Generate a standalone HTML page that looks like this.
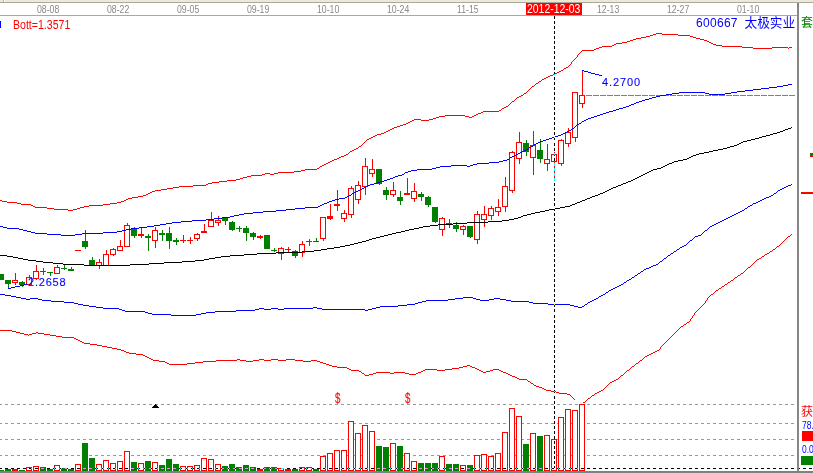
<!DOCTYPE html>
<html><head><meta charset="utf-8"><title>600667</title>
<style>
html,body{margin:0;padding:0;background:#fff;}
body{width:813px;height:473px;overflow:hidden;position:relative;font-family:"Liberation Sans","Noto Sans CJK SC",sans-serif;}
svg{position:absolute;left:0;top:0;display:block}
text{font-family:"Liberation Sans","Noto Sans CJK SC",sans-serif;}
</style></head><body>
<svg width="813" height="473" viewBox="0 0 813 473" shape-rendering="crispEdges">
<rect x="0" y="0" width="813" height="473" fill="#fff"/>
<rect x="0" y="0" width="813" height="3" fill="#ece9d8"/>
<rect x="0" y="2" width="813" height="1" fill="#aca899"/>
<rect x="4" y="0" width="1" height="2" fill="#fff"/>
<rect x="3" y="0" width="1" height="2" fill="#b8b4a0"/>
<rect x="0" y="15" width="797" height="1" fill="#a8a8a8"/>
<rect x="797" y="3" width="2" height="470" fill="#868686"/>
<rect x="0" y="471" width="813" height="2" fill="#808080"/>
<line x1="-1" y1="404.5" x2="795" y2="404.5" stroke="#999" stroke-width="1" stroke-dasharray="3 3"/>
<line x1="-1" y1="423.5" x2="795" y2="423.5" stroke="#999" stroke-width="1" stroke-dasharray="3 3"/>
<line x1="-1" y1="439.5" x2="795" y2="439.5" stroke="#999" stroke-width="1" stroke-dasharray="3 3"/>
<line x1="-1" y1="455.5" x2="795" y2="455.5" stroke="#999" stroke-width="1" stroke-dasharray="3 3"/>
<line x1="586" y1="95.5" x2="796" y2="95.5" stroke="#808080" stroke-width="1" stroke-dasharray="6 1"/>
<rect x="1" y="274" width="1" height="6" fill="#008000"/>
<rect x="-2" y="274" width="6" height="6" fill="#008000"/>
<rect x="8" y="280" width="1" height="8" fill="#008000"/>
<rect x="5" y="280" width="6" height="4" fill="#008000"/>
<rect x="15" y="273" width="1" height="12" fill="#ff0000"/>
<rect x="12" y="280" width="6" height="3" fill="#ff0000"/>
<rect x="13" y="281" width="4" height="1" fill="#fff"/>
<rect x="22" y="281" width="1" height="6" fill="#008000"/>
<rect x="19" y="282" width="6" height="3" fill="#008000"/>
<rect x="29" y="275" width="1" height="10" fill="#ff0000"/>
<rect x="26" y="277" width="6" height="8" fill="#ff0000"/>
<rect x="27" y="278" width="4" height="6" fill="#fff"/>
<rect x="36" y="265" width="1" height="15" fill="#ff0000"/>
<rect x="33" y="271" width="6" height="8" fill="#ff0000"/>
<rect x="34" y="272" width="4" height="6" fill="#fff"/>
<rect x="43" y="268" width="1" height="7" fill="#008000"/>
<rect x="40" y="271" width="6" height="1" fill="#008000"/>
<rect x="50" y="272" width="1" height="4" fill="#008000"/>
<rect x="47" y="272" width="6" height="1" fill="#008000"/>
<rect x="57" y="265" width="1" height="9" fill="#ff0000"/>
<rect x="54" y="267" width="6" height="7" fill="#ff0000"/>
<rect x="55" y="268" width="4" height="5" fill="#fff"/>
<rect x="64" y="265" width="1" height="5" fill="#008000"/>
<rect x="61" y="268" width="6" height="1" fill="#008000"/>
<rect x="71" y="267" width="1" height="4" fill="#008000"/>
<rect x="68" y="269" width="6" height="2" fill="#008000"/>
<rect x="78" y="250" width="1" height="1" fill="#ff0000"/>
<rect x="75" y="250" width="6" height="1" fill="#ff0000"/>
<rect x="85" y="230" width="1" height="19" fill="#008000"/>
<rect x="82" y="241" width="6" height="6" fill="#008000"/>
<rect x="92" y="257" width="1" height="9" fill="#008000"/>
<rect x="89" y="260" width="6" height="6" fill="#008000"/>
<rect x="99" y="259" width="1" height="10" fill="#ff0000"/>
<rect x="96" y="262" width="6" height="4" fill="#ff0000"/>
<rect x="97" y="263" width="4" height="2" fill="#fff"/>
<rect x="106" y="250" width="1" height="16" fill="#ff0000"/>
<rect x="103" y="254" width="6" height="12" fill="#ff0000"/>
<rect x="104" y="255" width="4" height="10" fill="#fff"/>
<rect x="113" y="248" width="1" height="8" fill="#ff0000"/>
<rect x="110" y="249" width="6" height="6" fill="#ff0000"/>
<rect x="111" y="250" width="4" height="4" fill="#fff"/>
<rect x="120" y="240" width="1" height="11" fill="#ff0000"/>
<rect x="117" y="246" width="6" height="5" fill="#ff0000"/>
<rect x="118" y="247" width="4" height="3" fill="#fff"/>
<rect x="127" y="223" width="1" height="24" fill="#ff0000"/>
<rect x="124" y="225" width="6" height="22" fill="#ff0000"/>
<rect x="125" y="226" width="4" height="20" fill="#fff"/>
<rect x="134" y="227" width="1" height="11" fill="#008000"/>
<rect x="131" y="229" width="6" height="7" fill="#008000"/>
<rect x="141" y="228" width="1" height="10" fill="#ff0000"/>
<rect x="138" y="234" width="6" height="2" fill="#ff0000"/>
<rect x="148" y="234" width="1" height="17" fill="#008000"/>
<rect x="145" y="236" width="6" height="2" fill="#008000"/>
<rect x="155" y="227" width="1" height="21" fill="#ff0000"/>
<rect x="152" y="230" width="6" height="11" fill="#ff0000"/>
<rect x="153" y="231" width="4" height="9" fill="#fff"/>
<rect x="162" y="230" width="1" height="11" fill="#008000"/>
<rect x="159" y="233" width="6" height="2" fill="#008000"/>
<rect x="169" y="227" width="1" height="22" fill="#008000"/>
<rect x="166" y="233" width="6" height="8" fill="#008000"/>
<rect x="176" y="238" width="1" height="7" fill="#008000"/>
<rect x="173" y="240" width="6" height="2" fill="#008000"/>
<rect x="183" y="235" width="1" height="8" fill="#ff0000"/>
<rect x="180" y="240" width="6" height="1" fill="#ff0000"/>
<rect x="190" y="237" width="1" height="7" fill="#ff0000"/>
<rect x="187" y="240" width="6" height="1" fill="#ff0000"/>
<rect x="197" y="233" width="1" height="8" fill="#ff0000"/>
<rect x="194" y="234" width="6" height="5" fill="#ff0000"/>
<rect x="195" y="235" width="4" height="3" fill="#fff"/>
<rect x="204" y="224" width="1" height="9" fill="#ff0000"/>
<rect x="201" y="231" width="6" height="2" fill="#ff0000"/>
<rect x="211" y="212" width="1" height="15" fill="#ff0000"/>
<rect x="208" y="220" width="6" height="7" fill="#ff0000"/>
<rect x="209" y="221" width="4" height="5" fill="#fff"/>
<rect x="218" y="216" width="1" height="10" fill="#ff0000"/>
<rect x="215" y="220" width="6" height="3" fill="#ff0000"/>
<rect x="216" y="221" width="4" height="1" fill="#fff"/>
<rect x="225" y="218" width="1" height="7" fill="#008000"/>
<rect x="222" y="218" width="6" height="3" fill="#008000"/>
<rect x="232" y="221" width="1" height="10" fill="#008000"/>
<rect x="229" y="222" width="6" height="8" fill="#008000"/>
<rect x="239" y="226" width="1" height="6" fill="#008000"/>
<rect x="236" y="228" width="6" height="1" fill="#008000"/>
<rect x="246" y="226" width="1" height="15" fill="#008000"/>
<rect x="243" y="228" width="6" height="5" fill="#008000"/>
<rect x="253" y="232" width="1" height="8" fill="#008000"/>
<rect x="250" y="233" width="6" height="4" fill="#008000"/>
<rect x="260" y="235" width="1" height="4" fill="#ff0000"/>
<rect x="257" y="236" width="6" height="2" fill="#ff0000"/>
<rect x="267" y="235" width="1" height="14" fill="#008000"/>
<rect x="264" y="235" width="6" height="14" fill="#008000"/>
<rect x="274" y="248" width="1" height="4" fill="#008000"/>
<rect x="271" y="250" width="6" height="1" fill="#008000"/>
<rect x="281" y="247" width="1" height="13" fill="#ff0000"/>
<rect x="278" y="248" width="6" height="6" fill="#ff0000"/>
<rect x="279" y="249" width="4" height="4" fill="#fff"/>
<rect x="288" y="247" width="1" height="6" fill="#ff0000"/>
<rect x="285" y="249" width="6" height="1" fill="#ff0000"/>
<rect x="295" y="250" width="1" height="8" fill="#008000"/>
<rect x="292" y="251" width="6" height="5" fill="#008000"/>
<rect x="302" y="241" width="1" height="16" fill="#ff0000"/>
<rect x="299" y="244" width="6" height="9" fill="#ff0000"/>
<rect x="300" y="245" width="4" height="7" fill="#fff"/>
<rect x="309" y="239" width="1" height="7" fill="#ff0000"/>
<rect x="306" y="241" width="6" height="1" fill="#ff0000"/>
<rect x="316" y="238" width="1" height="4" fill="#008000"/>
<rect x="313" y="241" width="6" height="1" fill="#008000"/>
<rect x="323" y="217" width="1" height="24" fill="#ff0000"/>
<rect x="320" y="217" width="6" height="22" fill="#ff0000"/>
<rect x="321" y="218" width="4" height="20" fill="#fff"/>
<rect x="330" y="204" width="1" height="16" fill="#ff0000"/>
<rect x="327" y="216" width="6" height="3" fill="#ff0000"/>
<rect x="337" y="190" width="1" height="21" fill="#ff0000"/>
<rect x="334" y="204" width="6" height="2" fill="#ff0000"/>
<rect x="344" y="210" width="1" height="12" fill="#ff0000"/>
<rect x="341" y="213" width="6" height="6" fill="#ff0000"/>
<rect x="342" y="214" width="4" height="4" fill="#fff"/>
<rect x="351" y="186" width="1" height="32" fill="#ff0000"/>
<rect x="348" y="188" width="6" height="27" fill="#ff0000"/>
<rect x="349" y="189" width="4" height="25" fill="#fff"/>
<rect x="358" y="181" width="1" height="23" fill="#ff0000"/>
<rect x="355" y="185" width="6" height="15" fill="#ff0000"/>
<rect x="356" y="186" width="4" height="13" fill="#fff"/>
<rect x="365" y="158" width="1" height="37" fill="#ff0000"/>
<rect x="362" y="166" width="6" height="21" fill="#ff0000"/>
<rect x="363" y="167" width="4" height="19" fill="#fff"/>
<rect x="372" y="159" width="1" height="18" fill="#ff0000"/>
<rect x="369" y="169" width="6" height="5" fill="#ff0000"/>
<rect x="370" y="170" width="4" height="3" fill="#fff"/>
<rect x="379" y="169" width="1" height="16" fill="#008000"/>
<rect x="376" y="169" width="6" height="15" fill="#008000"/>
<rect x="386" y="187" width="1" height="13" fill="#008000"/>
<rect x="383" y="190" width="6" height="5" fill="#008000"/>
<rect x="393" y="182" width="1" height="15" fill="#ff0000"/>
<rect x="390" y="190" width="6" height="5" fill="#ff0000"/>
<rect x="391" y="191" width="4" height="3" fill="#fff"/>
<rect x="400" y="191" width="1" height="14" fill="#008000"/>
<rect x="397" y="197" width="6" height="4" fill="#008000"/>
<rect x="407" y="178" width="1" height="17" fill="#ff0000"/>
<rect x="404" y="193" width="6" height="2" fill="#ff0000"/>
<rect x="414" y="183" width="1" height="19" fill="#ff0000"/>
<rect x="411" y="191" width="6" height="8" fill="#ff0000"/>
<rect x="412" y="192" width="4" height="6" fill="#fff"/>
<rect x="421" y="192" width="1" height="9" fill="#008000"/>
<rect x="418" y="194" width="6" height="3" fill="#008000"/>
<rect x="428" y="196" width="1" height="11" fill="#008000"/>
<rect x="425" y="197" width="6" height="8" fill="#008000"/>
<rect x="435" y="207" width="1" height="16" fill="#008000"/>
<rect x="432" y="207" width="6" height="15" fill="#008000"/>
<rect x="442" y="217" width="1" height="19" fill="#ff0000"/>
<rect x="439" y="218" width="6" height="12" fill="#ff0000"/>
<rect x="440" y="219" width="4" height="10" fill="#fff"/>
<rect x="449" y="219" width="1" height="9" fill="#008000"/>
<rect x="446" y="223" width="6" height="1" fill="#008000"/>
<rect x="456" y="222" width="1" height="10" fill="#008000"/>
<rect x="453" y="225" width="6" height="4" fill="#008000"/>
<rect x="463" y="225" width="1" height="10" fill="#ff0000"/>
<rect x="460" y="226" width="6" height="4" fill="#ff0000"/>
<rect x="461" y="227" width="4" height="2" fill="#fff"/>
<rect x="470" y="226" width="1" height="12" fill="#008000"/>
<rect x="467" y="226" width="6" height="11" fill="#008000"/>
<rect x="477" y="211" width="1" height="33" fill="#ff0000"/>
<rect x="474" y="214" width="6" height="26" fill="#ff0000"/>
<rect x="475" y="215" width="4" height="24" fill="#fff"/>
<rect x="484" y="206" width="1" height="21" fill="#ff0000"/>
<rect x="481" y="214" width="6" height="6" fill="#ff0000"/>
<rect x="482" y="215" width="4" height="4" fill="#fff"/>
<rect x="491" y="206" width="1" height="14" fill="#ff0000"/>
<rect x="488" y="208" width="6" height="8" fill="#ff0000"/>
<rect x="489" y="209" width="4" height="6" fill="#fff"/>
<rect x="498" y="199" width="1" height="17" fill="#ff0000"/>
<rect x="495" y="207" width="6" height="5" fill="#ff0000"/>
<rect x="496" y="208" width="4" height="3" fill="#fff"/>
<rect x="505" y="177" width="1" height="35" fill="#ff0000"/>
<rect x="502" y="186" width="6" height="21" fill="#ff0000"/>
<rect x="503" y="187" width="4" height="19" fill="#fff"/>
<rect x="512" y="151" width="1" height="42" fill="#ff0000"/>
<rect x="509" y="152" width="6" height="39" fill="#ff0000"/>
<rect x="510" y="153" width="4" height="37" fill="#fff"/>
<rect x="519" y="132" width="1" height="32" fill="#ff0000"/>
<rect x="516" y="142" width="6" height="17" fill="#ff0000"/>
<rect x="517" y="143" width="4" height="15" fill="#fff"/>
<rect x="526" y="140" width="1" height="16" fill="#008000"/>
<rect x="523" y="143" width="6" height="9" fill="#008000"/>
<rect x="533" y="131" width="1" height="44" fill="#ff0000"/>
<rect x="530" y="145" width="6" height="13" fill="#ff0000"/>
<rect x="531" y="146" width="4" height="11" fill="#fff"/>
<rect x="540" y="139" width="1" height="24" fill="#008000"/>
<rect x="537" y="150" width="6" height="9" fill="#008000"/>
<rect x="547" y="144" width="1" height="27" fill="#ff0000"/>
<rect x="544" y="159" width="6" height="5" fill="#ff0000"/>
<rect x="545" y="160" width="4" height="3" fill="#fff"/>
<rect x="554" y="152" width="1" height="29" fill="#ff0000"/>
<rect x="551" y="154" width="6" height="8" fill="#ff0000"/>
<rect x="552" y="155" width="4" height="6" fill="#fff"/>
<rect x="561" y="139" width="1" height="27" fill="#ff0000"/>
<rect x="558" y="140" width="6" height="24" fill="#ff0000"/>
<rect x="559" y="141" width="4" height="22" fill="#fff"/>
<rect x="568" y="128" width="1" height="19" fill="#ff0000"/>
<rect x="565" y="132" width="6" height="12" fill="#ff0000"/>
<rect x="566" y="133" width="4" height="10" fill="#fff"/>
<rect x="575" y="92" width="1" height="50" fill="#ff0000"/>
<rect x="572" y="92" width="6" height="46" fill="#ff0000"/>
<rect x="573" y="93" width="4" height="44" fill="#fff"/>
<rect x="582" y="70" width="1" height="38" fill="#ff0000"/>
<rect x="579" y="95" width="6" height="9" fill="#ff0000"/>
<rect x="580" y="96" width="4" height="7" fill="#fff"/>
<path fill="none" stroke="#ff0000" stroke-width="1" d="M656 33.5h6M653 34.5h3M662 34.5h16M650 35.5h3M678 35.5h12M646 36.5h4M690 36.5h3M641 37.5h5M693 37.5h3M636 38.5h5M696 38.5h4M633 39.5h3M700 39.5h4M630 40.5h3M704 40.5h3M627 41.5h3M707 41.5h2M622 42.5h5M709 42.5h2M616 43.5h6M711 43.5h2M614 44.5h2M713 44.5h3M612 45.5h2M716 45.5h6M602 46.5h10M722 46.5h20M599 47.5h3M742 47.5h11M772 47.5h16M789 47.5h3M596 48.5h3M753 48.5h19M788 48.5h1M594 49.5h2M582 50.5h12M581 51.5h1M580 52.5h1M579 53.5h1M578 54.5h1M577 55.5h1M577 56.5h1M576 57.5h1M575 58.5h1M574 59.5h1M573 60.5h1M572 61.5h1M571 62.5h1M571 63.5h1M570 64.5h1M569 65.5h1M568 66.5h1M566 67.5h2M564 68.5h2M563 69.5h1M561 70.5h2M559 71.5h2M557 72.5h2M555 73.5h2M553 74.5h2M550 75.5h3M548 76.5h2M546 77.5h2M544 78.5h2M542 79.5h2M541 80.5h1M539 81.5h2M538 82.5h1M536 83.5h2M535 84.5h1M534 85.5h1M532 86.5h2M531 87.5h1M530 88.5h1M529 89.5h1M528 90.5h1M527 91.5h1M526 92.5h1M524 93.5h2M523 94.5h1M521 95.5h2M519 96.5h2M517 97.5h2M516 98.5h1M515 99.5h1M514 100.5h1M512 101.5h2M511 102.5h1M510 103.5h1M509 104.5h1M508 105.5h1M506 106.5h2M504 107.5h2M502 108.5h2M501 109.5h1M499 110.5h2M483 111.5h16M481 112.5h2M478 113.5h3M476 114.5h2M445 115.5h20M474 115.5h2M439 116.5h6M465 116.5h4M472 116.5h2M436 117.5h3M469 117.5h3M433 118.5h3M414 119.5h7M429 119.5h4M412 120.5h2M421 120.5h8M410 121.5h2M408 122.5h2M406 123.5h2M403 124.5h3M400 125.5h3M397 126.5h3M394 127.5h3M392 128.5h2M390 129.5h2M388 130.5h2M386 131.5h2M384 132.5h2M381 133.5h3M377 134.5h4M375 135.5h2M373 136.5h2M371 137.5h2M369 138.5h2M367 139.5h2M366 140.5h1M365 141.5h1M364 142.5h1M363 143.5h1M362 144.5h1M361 145.5h1M359 146.5h2M358 147.5h1M356 148.5h2M354 149.5h2M352 150.5h2M350 151.5h2M349 152.5h1M348 153.5h1M346 154.5h2M344 155.5h2M341 156.5h3M339 157.5h2M337 158.5h2M334 159.5h3M332 160.5h2M330 161.5h2M328 162.5h2M326 163.5h2M324 164.5h2M322 165.5h2M320 166.5h2M319 167.5h1M317 168.5h2M305 169.5h12M301 170.5h4M294 171.5h7M278 172.5h16M265 173.5h5M274 173.5h4M262 174.5h3M270 174.5h4M251 175.5h11M247 176.5h4M243 177.5h4M240 178.5h3M236 179.5h4M227 180.5h9M219 181.5h8M212 182.5h7M208 183.5h4M206 184.5h2M193 185.5h13M179 186.5h14M173 187.5h6M167 188.5h6M161 189.5h6M155 190.5h6M152 191.5h3M150 192.5h2M148 193.5h2M146 194.5h2M143 195.5h3M138 196.5h5M132 197.5h6M128 198.5h4M126 199.5h2M0 200.5h2M124 200.5h2M2 201.5h5M121 201.5h3M7 202.5h10M117 202.5h4M17 203.5h4M110 203.5h7M21 204.5h10M103 204.5h7M31 205.5h2M89 205.5h14M33 206.5h2M84 206.5h5M35 207.5h12M80 207.5h4M47 208.5h7M77 208.5h3M54 209.5h14M73 209.5h4M68 210.5h5"/>
<path fill="none" stroke="#0000ff" stroke-width="1" d="M788 84.5h4M783 85.5h5M777 86.5h6M769 87.5h8M761 88.5h8M753 89.5h8M745 90.5h8M737 91.5h8M679 92.5h26M731 92.5h6M672 93.5h7M705 93.5h4M725 93.5h6M666 94.5h6M709 94.5h16M660 95.5h6M656 96.5h4M652 97.5h4M649 98.5h3M645 99.5h4M642 100.5h3M639 101.5h3M636 102.5h3M634 103.5h2M631 104.5h3M629 105.5h2M626 106.5h3M623 107.5h3M619 108.5h4M616 109.5h3M613 110.5h3M609 111.5h4M606 112.5h3M603 113.5h3M600 114.5h3M597 115.5h3M594 116.5h3M591 117.5h3M588 118.5h3M586 119.5h2M584 120.5h2M582 121.5h2M581 122.5h1M579 123.5h2M577 124.5h2M576 125.5h1M575 126.5h1M574 127.5h1M572 128.5h2M571 129.5h1M569 130.5h2M567 131.5h2M565 132.5h2M563 133.5h2M561 134.5h2M558 135.5h3M555 136.5h3M552 137.5h3M549 138.5h3M546 139.5h3M543 140.5h3M540 141.5h3M538 142.5h2M536 143.5h2M534 144.5h2M533 145.5h1M531 146.5h2M529 147.5h2M528 148.5h1M526 149.5h2M524 150.5h2M522 151.5h2M520 152.5h2M518 153.5h2M516 154.5h2M514 155.5h2M512 156.5h2M510 157.5h2M509 158.5h1M507 159.5h2M503 160.5h4M499 161.5h4M489 162.5h10M477 163.5h12M473 164.5h4M451 165.5h16M470 165.5h3M440 166.5h11M467 166.5h3M436 167.5h4M432 168.5h4M417 169.5h15M411 170.5h6M408 171.5h3M405 172.5h3M404 173.5h1M402 174.5h2M398 175.5h4M395 176.5h3M393 177.5h2M390 178.5h3M387 179.5h3M384 180.5h3M380 181.5h4M377 182.5h3M374 183.5h3M370 184.5h4M368 185.5h2M366 186.5h2M364 187.5h2M362 188.5h2M360 189.5h2M358 190.5h2M356 191.5h2M354 192.5h2M352 193.5h2M351 194.5h1M349 195.5h2M347 196.5h2M345 197.5h2M339 198.5h6M335 199.5h4M332 200.5h3M329 201.5h3M327 202.5h2M324 203.5h3M322 204.5h2M320 205.5h2M318 206.5h2M305 207.5h13M295 208.5h10M286 209.5h9M276 210.5h10M263 211.5h13M253 212.5h10M244 213.5h9M239 214.5h5M234 215.5h5M230 216.5h4M222 217.5h8M214 218.5h8M206 219.5h8M192 220.5h14M181 221.5h11M172 222.5h9M166 223.5h6M160 224.5h6M154 225.5h6M0 226.5h3M147 226.5h7M3 227.5h4M139 227.5h8M7 228.5h12M131 228.5h8M19 229.5h4M126 229.5h5M23 230.5h4M122 230.5h4M27 231.5h4M117 231.5h5M31 232.5h4M103 232.5h14M35 233.5h12M82 233.5h21M47 234.5h14M75 234.5h7M61 235.5h14"/>
<path fill="none" stroke="#000" stroke-width="1" d="M791 127.5h1M788 128.5h3M785 129.5h3M783 130.5h2M780 131.5h3M777 132.5h3M773 133.5h4M770 134.5h3M766 135.5h4M762 136.5h4M759 137.5h3M755 138.5h4M751 139.5h4M747 140.5h4M743 141.5h4M741 142.5h2M739 143.5h2M737 144.5h2M734 145.5h3M730 146.5h4M727 147.5h3M723 148.5h4M718 149.5h5M713 150.5h5M709 151.5h4M704 152.5h5M699 153.5h5M696 154.5h3M693 155.5h3M691 156.5h2M689 157.5h2M687 158.5h2M683 159.5h4M678 160.5h5M674 161.5h4M672 162.5h2M669 163.5h3M667 164.5h2M665 165.5h2M663 166.5h2M661 167.5h2M657 168.5h4M653 169.5h4M651 170.5h2M649 171.5h2M647 172.5h2M645 173.5h2M643 174.5h2M641 175.5h2M639 176.5h2M637 177.5h2M635 178.5h2M633 179.5h2M631 180.5h2M628 181.5h3M626 182.5h2M623 183.5h3M621 184.5h2M618 185.5h3M616 186.5h2M613 187.5h3M611 188.5h2M609 189.5h2M607 190.5h2M605 191.5h2M603 192.5h2M600 193.5h3M598 194.5h2M595 195.5h3M592 196.5h3M590 197.5h2M587 198.5h3M585 199.5h2M582 200.5h3M580 201.5h2M577 202.5h3M575 203.5h2M572 204.5h3M570 205.5h2M565 206.5h5M560 207.5h5M554 208.5h6M549 209.5h5M545 210.5h4M540 211.5h5M535 212.5h5M531 213.5h4M527 214.5h4M523 215.5h4M521 216.5h2M518 217.5h3M514 218.5h4M509 219.5h5M502 220.5h7M488 221.5h14M467 222.5h21M453 223.5h14M438 224.5h15M430 225.5h8M423 226.5h7M419 227.5h4M414 228.5h5M409 229.5h5M405 230.5h4M401 231.5h4M396 232.5h5M392 233.5h4M388 234.5h4M384 235.5h4M380 236.5h4M376 237.5h4M372 238.5h4M369 239.5h3M366 240.5h3M362 241.5h4M358 242.5h4M354 243.5h4M350 244.5h4M345 245.5h5M340 246.5h5M334 247.5h6M327 248.5h7M321 249.5h6M314 250.5h7M302 251.5h12M276 252.5h26M257 253.5h19M244 254.5h13M0 255.5h7M230 255.5h14M7 256.5h6M221 256.5h9M13 257.5h5M215 257.5h6M18 258.5h5M209 258.5h6M23 259.5h5M204 259.5h5M28 260.5h8M195 260.5h9M36 261.5h7M182 261.5h13M43 262.5h10M164 262.5h18M53 263.5h10M149 263.5h15M63 264.5h21M130 264.5h19M84 265.5h46"/>
<path fill="none" stroke="#0000ff" stroke-width="1" d="M791 184.5h1M788 185.5h3M786 186.5h2M784 187.5h2M782 188.5h2M780 189.5h2M778 190.5h2M777 191.5h1M776 192.5h1M774 193.5h2M773 194.5h1M771 195.5h2M769 196.5h2M766 197.5h3M764 198.5h2M762 199.5h2M760 200.5h2M758 201.5h2M756 202.5h2M753 203.5h3M752 204.5h1M750 205.5h2M748 206.5h2M747 207.5h1M745 208.5h2M744 209.5h1M742 210.5h2M740 211.5h2M738 212.5h2M736 213.5h2M734 214.5h2M732 215.5h2M730 216.5h2M728 217.5h2M726 218.5h2M724 219.5h2M722 220.5h2M720 221.5h2M718 222.5h2M716 223.5h2M714 224.5h2M712 225.5h2M710 226.5h2M709 227.5h1M708 228.5h1M707 229.5h1M705 230.5h2M704 231.5h1M703 232.5h1M702 233.5h1M701 234.5h1M698 235.5h3M695 236.5h3M694 237.5h1M693 238.5h1M692 239.5h1M690 240.5h2M689 241.5h1M688 242.5h1M687 243.5h1M686 244.5h1M684 245.5h2M682 246.5h2M680 247.5h2M679 248.5h1M677 249.5h2M676 250.5h1M674 251.5h2M673 252.5h1M671 253.5h2M670 254.5h1M668 255.5h2M667 256.5h1M666 257.5h1M664 258.5h2M663 259.5h1M662 260.5h1M660 261.5h2M659 262.5h1M658 263.5h1M656 264.5h2M653 265.5h3M651 266.5h2M649 267.5h2M646 268.5h3M644 269.5h2M643 270.5h1M641 271.5h2M640 272.5h1M638 273.5h2M637 274.5h1M635 275.5h2M634 276.5h1M632 277.5h2M631 278.5h1M629 279.5h2M627 280.5h2M626 281.5h1M624 282.5h2M623 283.5h1M621 284.5h2M619 285.5h2M617 286.5h2M615 287.5h2M613 288.5h2M611 289.5h2M609 290.5h2M608 291.5h1M606 292.5h2M605 293.5h1M0 294.5h5M603 294.5h2M5 295.5h6M601 295.5h2M11 296.5h5M599 296.5h2M16 297.5h5M463 297.5h10M598 297.5h1M21 298.5h5M30 298.5h8M455 298.5h8M473 298.5h3M494 298.5h6M596 298.5h2M26 299.5h4M38 299.5h4M448 299.5h7M476 299.5h4M489 299.5h5M500 299.5h6M594 299.5h2M42 300.5h9M426 300.5h22M480 300.5h9M506 300.5h5M592 300.5h2M51 301.5h13M422 301.5h4M511 301.5h18M590 301.5h2M64 302.5h10M418 302.5h4M529 302.5h4M588 302.5h2M74 303.5h4M415 303.5h3M533 303.5h15M587 303.5h1M78 304.5h5M407 304.5h8M548 304.5h22M585 304.5h2M83 305.5h6M398 305.5h9M570 305.5h4M584 305.5h1M89 306.5h7M380 306.5h18M574 306.5h4M582 306.5h2M96 307.5h7M313 307.5h4M376 307.5h4M578 307.5h4M103 308.5h16M259 308.5h5M271 308.5h7M284 308.5h29M317 308.5h5M372 308.5h4M119 309.5h3M255 309.5h4M264 309.5h7M278 309.5h6M322 309.5h43M368 309.5h4M122 310.5h3M236 310.5h19M365 310.5h3M125 311.5h20M215 311.5h21M145 312.5h3M206 312.5h9M148 313.5h4M201 313.5h5M152 314.5h19M196 314.5h5M171 315.5h25"/>
<path fill="none" stroke="#ff0000" stroke-width="1" d="M0 330.5h12M12 331.5h4M16 332.5h4M36 332.5h2M20 333.5h4M32 333.5h4M38 333.5h6M24 334.5h4M29 334.5h3M44 334.5h6M28 335.5h1M50 335.5h6M56 336.5h6M62 337.5h12M74 338.5h2M76 339.5h2M78 340.5h2M80 341.5h2M82 342.5h2M84 343.5h6M90 344.5h7M97 345.5h5M102 346.5h5M107 347.5h5M112 348.5h5M117 349.5h4M121 350.5h3M124 351.5h2M126 352.5h3M129 353.5h7M136 354.5h7M143 355.5h2M145 356.5h2M147 357.5h2M149 358.5h2M151 359.5h2M237 359.5h3M259 359.5h5M271 359.5h7M286 359.5h9M153 360.5h6M216 360.5h21M240 360.5h6M253 360.5h6M264 360.5h7M278 360.5h8M295 360.5h8M311 360.5h6M159 361.5h6M203 361.5h13M246 361.5h7M303 361.5h8M317 361.5h3M165 362.5h2M195 362.5h8M320 362.5h3M167 363.5h2M187 363.5h8M323 363.5h3M169 364.5h18M326 364.5h3M329 365.5h3M467 365.5h3M332 366.5h5M463 366.5h4M470 366.5h2M337 367.5h10M459 367.5h4M472 367.5h3M347 368.5h2M452 368.5h7M475 368.5h2M349 369.5h2M425 369.5h12M445 369.5h7M477 369.5h2M493 369.5h6M351 370.5h8M423 370.5h2M437 370.5h8M479 370.5h2M490 370.5h3M499 370.5h2M359 371.5h2M421 371.5h2M481 371.5h2M486 371.5h4M501 371.5h2M361 372.5h1M376 372.5h14M394 372.5h11M418 372.5h3M483 372.5h3M503 372.5h3M362 373.5h2M373 373.5h3M390 373.5h4M405 373.5h4M416 373.5h2M506 373.5h2M364 374.5h1M369 374.5h4M409 374.5h7M508 374.5h2M365 375.5h4M510 375.5h2M512 376.5h3M515 377.5h2M517 378.5h2M519 379.5h8M527 380.5h1M528 381.5h2M530 382.5h1M531 383.5h2M533 384.5h1M534 385.5h2M536 386.5h3M539 387.5h3M542 388.5h2M544 389.5h2M546 390.5h5M551 391.5h5M556 392.5h3M559 393.5h8M567 394.5h3M570 395.5h1M571 396.5h1M572 397.5h1M573 398.5h1M574 399.5h1"/>
<path fill="none" stroke="#ff0000" stroke-width="1" d="M791 234.5h1M790 235.5h1M788 236.5h2M787 237.5h1M786 238.5h1M785 239.5h1M784 240.5h1M783 241.5h1M782 242.5h1M781 243.5h1M780 244.5h1M779 245.5h1M777 246.5h2M776 247.5h1M775 248.5h1M773 249.5h2M772 250.5h1M770 251.5h2M769 252.5h1M767 253.5h2M765 254.5h2M764 255.5h1M762 256.5h2M761 257.5h1M759 258.5h2M757 259.5h2M756 260.5h1M755 261.5h1M754 262.5h1M753 263.5h1M752 264.5h1M751 265.5h1M750 266.5h1M748 267.5h2M747 268.5h1M746 269.5h1M745 270.5h1M744 271.5h1M743 272.5h1M741 273.5h2M740 274.5h1M738 275.5h2M737 276.5h1M735 277.5h2M734 278.5h1M733 279.5h1M731 280.5h2M730 281.5h1M728 282.5h2M727 283.5h1M725 284.5h2M724 285.5h1M722 286.5h2M721 287.5h1M719 288.5h2M718 289.5h1M716 290.5h2M715 291.5h1M714 292.5h1M713 293.5h1M711 294.5h2M710 295.5h1M709 296.5h1M708 297.5h1M707 298.5h1M707 299.5h1M706 300.5h1M705 301.5h1M705 302.5h1M704 303.5h1M703 304.5h1M702 305.5h1M701 306.5h1M700 307.5h1M699 308.5h1M698 309.5h1M697 310.5h1M696 311.5h1M695 312.5h1M694 313.5h1M694 314.5h1M693 315.5h1M692 316.5h1M692 317.5h1M691 318.5h1M690 319.5h1M690 320.5h1M689 321.5h1M687 322.5h2M686 323.5h1M684 324.5h2M683 325.5h1M681 326.5h2M680 327.5h1M679 328.5h1M678 329.5h1M677 330.5h1M676 331.5h1M675 332.5h1M674 333.5h1M673 334.5h1M672 335.5h1M671 336.5h1M670 337.5h1M669 338.5h1M668 339.5h1M667 340.5h1M666 341.5h1M665 342.5h1M664 343.5h1M663 344.5h1M662 345.5h1M661 346.5h1M660 347.5h1M660 348.5h1M659 349.5h1M657 350.5h2M655 351.5h2M653 352.5h2M651 353.5h2M649 354.5h2M647 355.5h2M645 356.5h2M644 357.5h1M643 358.5h1M642 359.5h1M640 360.5h2M639 361.5h1M638 362.5h1M636 363.5h2M635 364.5h1M634 365.5h1M632 366.5h2M631 367.5h1M630 368.5h1M629 369.5h1M627 370.5h2M626 371.5h1M625 372.5h1M624 373.5h1M623 374.5h1M621 375.5h2M620 376.5h1M619 377.5h1M618 378.5h1M616 379.5h2M614 380.5h2M612 381.5h2M610 382.5h2M609 383.5h1M608 384.5h1M607 385.5h1M606 386.5h1M605 387.5h1M604 388.5h1M603 389.5h1M601 390.5h2M599 391.5h2M597 392.5h2M595 393.5h2M594 394.5h1M592 395.5h2M591 396.5h1M590 397.5h1M588 398.5h2M587 399.5h1M586 400.5h1M585 401.5h1M583 402.5h2"/>
<rect x="-2" y="470" width="6" height="1" fill="#008000"/>
<rect x="5" y="469" width="6" height="2" fill="#008000"/>
<rect x="12" y="469" width="6" height="2" fill="#ff0000"/>
<rect x="19" y="470" width="6" height="1" fill="#008000"/>
<rect x="26" y="467" width="6" height="4" fill="#ff0000"/>
<rect x="27" y="468" width="4" height="2" fill="#fff"/>
<rect x="33" y="466" width="6" height="5" fill="#ff0000"/>
<rect x="34" y="467" width="4" height="3" fill="#fff"/>
<rect x="40" y="467" width="6" height="4" fill="#008000"/>
<rect x="47" y="469" width="6" height="2" fill="#008000"/>
<rect x="54" y="465" width="6" height="6" fill="#ff0000"/>
<rect x="55" y="466" width="4" height="4" fill="#fff"/>
<rect x="61" y="468" width="6" height="3" fill="#008000"/>
<rect x="68" y="469" width="6" height="2" fill="#008000"/>
<rect x="75" y="464" width="6" height="7" fill="#ff0000"/>
<rect x="76" y="465" width="4" height="5" fill="#fff"/>
<rect x="82" y="443" width="6" height="28" fill="#008000"/>
<rect x="89" y="458" width="6" height="13" fill="#008000"/>
<rect x="96" y="464" width="6" height="7" fill="#ff0000"/>
<rect x="97" y="465" width="4" height="5" fill="#fff"/>
<rect x="103" y="460" width="6" height="11" fill="#ff0000"/>
<rect x="104" y="461" width="4" height="9" fill="#fff"/>
<rect x="110" y="463" width="6" height="8" fill="#ff0000"/>
<rect x="111" y="464" width="4" height="6" fill="#fff"/>
<rect x="117" y="461" width="6" height="10" fill="#ff0000"/>
<rect x="118" y="462" width="4" height="8" fill="#fff"/>
<rect x="124" y="451" width="6" height="20" fill="#ff0000"/>
<rect x="125" y="452" width="4" height="18" fill="#fff"/>
<rect x="131" y="462" width="6" height="9" fill="#008000"/>
<rect x="138" y="463" width="6" height="8" fill="#ff0000"/>
<rect x="139" y="464" width="4" height="6" fill="#fff"/>
<rect x="145" y="461" width="6" height="10" fill="#008000"/>
<rect x="152" y="462" width="6" height="9" fill="#ff0000"/>
<rect x="153" y="463" width="4" height="7" fill="#fff"/>
<rect x="159" y="465" width="6" height="6" fill="#008000"/>
<rect x="166" y="459" width="6" height="12" fill="#008000"/>
<rect x="173" y="464" width="6" height="7" fill="#008000"/>
<rect x="180" y="466" width="6" height="5" fill="#ff0000"/>
<rect x="181" y="467" width="4" height="3" fill="#fff"/>
<rect x="187" y="466" width="6" height="5" fill="#ff0000"/>
<rect x="188" y="467" width="4" height="3" fill="#fff"/>
<rect x="194" y="465" width="6" height="6" fill="#ff0000"/>
<rect x="195" y="466" width="4" height="4" fill="#fff"/>
<rect x="201" y="458" width="6" height="13" fill="#ff0000"/>
<rect x="202" y="459" width="4" height="11" fill="#fff"/>
<rect x="208" y="459" width="6" height="12" fill="#ff0000"/>
<rect x="209" y="460" width="4" height="10" fill="#fff"/>
<rect x="215" y="464" width="6" height="7" fill="#ff0000"/>
<rect x="216" y="465" width="4" height="5" fill="#fff"/>
<rect x="222" y="466" width="6" height="5" fill="#008000"/>
<rect x="229" y="464" width="6" height="7" fill="#008000"/>
<rect x="236" y="467" width="6" height="4" fill="#008000"/>
<rect x="243" y="465" width="6" height="6" fill="#008000"/>
<rect x="250" y="467" width="6" height="4" fill="#008000"/>
<rect x="257" y="469" width="6" height="2" fill="#ff0000"/>
<rect x="264" y="467" width="6" height="4" fill="#008000"/>
<rect x="271" y="467" width="6" height="4" fill="#008000"/>
<rect x="278" y="468" width="6" height="3" fill="#ff0000"/>
<rect x="279" y="469" width="4" height="1" fill="#fff"/>
<rect x="285" y="469" width="6" height="2" fill="#ff0000"/>
<rect x="292" y="469" width="6" height="2" fill="#008000"/>
<rect x="299" y="467" width="6" height="4" fill="#ff0000"/>
<rect x="300" y="468" width="4" height="2" fill="#fff"/>
<rect x="306" y="467" width="6" height="4" fill="#ff0000"/>
<rect x="307" y="468" width="4" height="2" fill="#fff"/>
<rect x="313" y="469" width="6" height="2" fill="#008000"/>
<rect x="320" y="456" width="6" height="15" fill="#ff0000"/>
<rect x="321" y="457" width="4" height="13" fill="#fff"/>
<rect x="327" y="453" width="6" height="18" fill="#ff0000"/>
<rect x="328" y="454" width="4" height="16" fill="#fff"/>
<rect x="334" y="450" width="6" height="21" fill="#ff0000"/>
<rect x="335" y="451" width="4" height="19" fill="#fff"/>
<rect x="341" y="450" width="6" height="21" fill="#ff0000"/>
<rect x="342" y="451" width="4" height="19" fill="#fff"/>
<rect x="348" y="421" width="6" height="50" fill="#ff0000"/>
<rect x="349" y="422" width="4" height="48" fill="#fff"/>
<rect x="355" y="433" width="6" height="38" fill="#ff0000"/>
<rect x="356" y="434" width="4" height="36" fill="#fff"/>
<rect x="362" y="425" width="6" height="46" fill="#ff0000"/>
<rect x="363" y="426" width="4" height="44" fill="#fff"/>
<rect x="369" y="431" width="6" height="40" fill="#ff0000"/>
<rect x="370" y="432" width="4" height="38" fill="#fff"/>
<rect x="376" y="446" width="6" height="25" fill="#008000"/>
<rect x="383" y="447" width="6" height="24" fill="#008000"/>
<rect x="390" y="443" width="6" height="28" fill="#ff0000"/>
<rect x="391" y="444" width="4" height="26" fill="#fff"/>
<rect x="397" y="446" width="6" height="25" fill="#008000"/>
<rect x="404" y="453" width="6" height="18" fill="#ff0000"/>
<rect x="405" y="454" width="4" height="16" fill="#fff"/>
<rect x="411" y="461" width="6" height="10" fill="#ff0000"/>
<rect x="412" y="462" width="4" height="8" fill="#fff"/>
<rect x="418" y="463" width="6" height="8" fill="#008000"/>
<rect x="425" y="463" width="6" height="8" fill="#008000"/>
<rect x="432" y="463" width="6" height="8" fill="#008000"/>
<rect x="439" y="456" width="6" height="15" fill="#ff0000"/>
<rect x="440" y="457" width="4" height="13" fill="#fff"/>
<rect x="446" y="464" width="6" height="7" fill="#008000"/>
<rect x="453" y="464" width="6" height="7" fill="#008000"/>
<rect x="460" y="465" width="6" height="6" fill="#ff0000"/>
<rect x="461" y="466" width="4" height="4" fill="#fff"/>
<rect x="467" y="465" width="6" height="6" fill="#008000"/>
<rect x="474" y="455" width="6" height="16" fill="#ff0000"/>
<rect x="475" y="456" width="4" height="14" fill="#fff"/>
<rect x="481" y="454" width="6" height="17" fill="#ff0000"/>
<rect x="482" y="455" width="4" height="15" fill="#fff"/>
<rect x="488" y="456" width="6" height="15" fill="#ff0000"/>
<rect x="489" y="457" width="4" height="13" fill="#fff"/>
<rect x="495" y="453" width="6" height="18" fill="#ff0000"/>
<rect x="496" y="454" width="4" height="16" fill="#fff"/>
<rect x="502" y="432" width="6" height="39" fill="#ff0000"/>
<rect x="503" y="433" width="4" height="37" fill="#fff"/>
<rect x="509" y="408" width="6" height="63" fill="#ff0000"/>
<rect x="510" y="409" width="4" height="61" fill="#fff"/>
<rect x="516" y="416" width="6" height="55" fill="#ff0000"/>
<rect x="517" y="417" width="4" height="53" fill="#fff"/>
<rect x="523" y="444" width="6" height="27" fill="#008000"/>
<rect x="530" y="433" width="6" height="38" fill="#ff0000"/>
<rect x="531" y="434" width="4" height="36" fill="#fff"/>
<rect x="537" y="436" width="6" height="35" fill="#008000"/>
<rect x="544" y="435" width="6" height="36" fill="#ff0000"/>
<rect x="545" y="436" width="4" height="34" fill="#fff"/>
<rect x="551" y="439" width="6" height="32" fill="#ff0000"/>
<rect x="552" y="440" width="4" height="30" fill="#fff"/>
<rect x="558" y="417" width="6" height="54" fill="#ff0000"/>
<rect x="559" y="418" width="4" height="52" fill="#fff"/>
<rect x="565" y="409" width="6" height="62" fill="#ff0000"/>
<rect x="566" y="410" width="4" height="60" fill="#fff"/>
<rect x="572" y="410" width="6" height="61" fill="#ff0000"/>
<rect x="573" y="411" width="4" height="59" fill="#fff"/>
<rect x="579" y="404" width="6" height="67" fill="#ff0000"/>
<rect x="580" y="405" width="4" height="65" fill="#fff"/>
<line x1="-1" y1="468.5" x2="813" y2="468.5" stroke="#fff" stroke-width="1" stroke-dasharray="3 3" style="mix-blend-mode:difference"/>
<line x1="554.5" y1="16" x2="554.5" y2="468" stroke="#fff" stroke-width="1" stroke-dasharray="3 2.06" style="mix-blend-mode:difference"/>
<path fill="none" stroke="#0000ff" stroke-width="1" d="M582 70.5h2M584 71.5h4M588 72.5h3M591 73.5h4M595 74.5h4M599 75.5h3"/>
<path fill="none" stroke="#0000ff" stroke-width="1" d="M24 284.5h3M20 285.5h4M15 286.5h5M11 287.5h4M8 288.5h3"/>
<path fill="#000" d="M155 404h1v1h1v1h1v1h1v1h-7v-1h1v-1h1v-1h1z"/>
<rect x="0" y="21" width="1" height="7" fill="#0000ff"/>
<rect x="810" y="153" width="3" height="2" fill="#008000"/>
<rect x="810" y="155" width="3" height="2" fill="#ff0000"/>
<rect x="801" y="192" width="12" height="2" fill="#ff0000"/>
<rect x="802" y="431" width="11" height="10" fill="#ff0000"/>
<rect x="802" y="456" width="11" height="9" fill="#008000"/>
<rect x="801" y="456" width="1" height="9" fill="#ff0000"/>
<rect x="526" y="3" width="56" height="12" fill="#ff0000"/>
</svg>
<div style="position:absolute;left:36.7px;top:5.4px;font-size:10px;line-height:1;color:#888;white-space:nowrap;transform-origin:0 0;transform:scaleX(0.87);">08-08</div>
<div style="position:absolute;left:106.7px;top:5.4px;font-size:10px;line-height:1;color:#888;white-space:nowrap;transform-origin:0 0;transform:scaleX(0.87);">08-22</div>
<div style="position:absolute;left:176.7px;top:5.4px;font-size:10px;line-height:1;color:#888;white-space:nowrap;transform-origin:0 0;transform:scaleX(0.87);">09-05</div>
<div style="position:absolute;left:246.7px;top:5.4px;font-size:10px;line-height:1;color:#888;white-space:nowrap;transform-origin:0 0;transform:scaleX(0.87);">09-19</div>
<div style="position:absolute;left:316.7px;top:5.4px;font-size:10px;line-height:1;color:#888;white-space:nowrap;transform-origin:0 0;transform:scaleX(0.87);">10-10</div>
<div style="position:absolute;left:386.7px;top:5.4px;font-size:10px;line-height:1;color:#888;white-space:nowrap;transform-origin:0 0;transform:scaleX(0.87);">10-24</div>
<div style="position:absolute;left:456.7px;top:5.4px;font-size:10px;line-height:1;color:#888;white-space:nowrap;transform-origin:0 0;transform:scaleX(0.87);">11-15</div>
<div style="position:absolute;left:596.7px;top:5.4px;font-size:10px;line-height:1;color:#888;white-space:nowrap;transform-origin:0 0;transform:scaleX(0.87);">12-13</div>
<div style="position:absolute;left:666.7px;top:5.4px;font-size:10px;line-height:1;color:#888;white-space:nowrap;transform-origin:0 0;transform:scaleX(0.87);">12-27</div>
<div style="position:absolute;left:736.7px;top:5.4px;font-size:10px;line-height:1;color:#888;white-space:nowrap;transform-origin:0 0;transform:scaleX(0.87);">01-10</div>
<div style="position:absolute;left:527px;top:3.3px;font-size:12px;line-height:1;color:#fff;white-space:nowrap;transform-origin:0 0;transform:scaleX(0.87);">2012-12-03</div>
<div style="position:absolute;left:13px;top:18.5px;font-size:12px;line-height:1;color:#ff0000;white-space:nowrap;transform-origin:0 0;transform:scaleX(0.88);">Bott=1.3571</div>
<div style="position:absolute;left:28px;top:276.5px;font-size:11px;line-height:1;color:#0000ff;white-space:nowrap;letter-spacing:0.8px;-webkit-text-stroke:0.1px #0000ff;">2.2658</div>
<div style="position:absolute;left:602px;top:76.5px;font-size:11px;line-height:1;color:#0000ff;white-space:nowrap;letter-spacing:0.9px;-webkit-text-stroke:0.1px #0000ff;">4.2700</div>
<div style="position:absolute;left:696px;top:17.3px;font-size:12px;line-height:1;color:#0000ff;white-space:nowrap;letter-spacing:0.3px;">600667</div>
<div style="position:absolute;left:744.5px;top:17px;font-size:12.7px;line-height:1;color:#0000ff;white-space:nowrap;">太极实业</div>
<div style="position:absolute;left:801px;top:17px;font-size:12px;line-height:1;color:#008000;white-space:nowrap;">套</div>
<div style="position:absolute;left:801px;top:405.5px;font-size:12px;line-height:1;color:#ff0000;white-space:nowrap;">获</div>
<div style="position:absolute;left:801.5px;top:420.5px;font-size:10px;line-height:1;color:#0000ff;white-space:nowrap;transform-origin:0 0;transform:scaleX(0.85);">78.</div>
<div style="position:absolute;left:801.5px;top:445px;font-size:10px;line-height:1;color:#0000ff;white-space:nowrap;transform-origin:0 0;transform:scaleX(0.85);">0.0</div>
<div style="position:absolute;left:334.6px;top:390.9px;font-size:14.3px;line-height:1;color:#ff0000;white-space:nowrap;transform-origin:0 0;transform:scaleX(0.68);-webkit-text-stroke:0.15px #f00;">$</div>
<div style="position:absolute;left:404.6px;top:390.9px;font-size:14.3px;line-height:1;color:#ff0000;white-space:nowrap;transform-origin:0 0;transform:scaleX(0.68);-webkit-text-stroke:0.15px #f00;">$</div>
</body></html>
